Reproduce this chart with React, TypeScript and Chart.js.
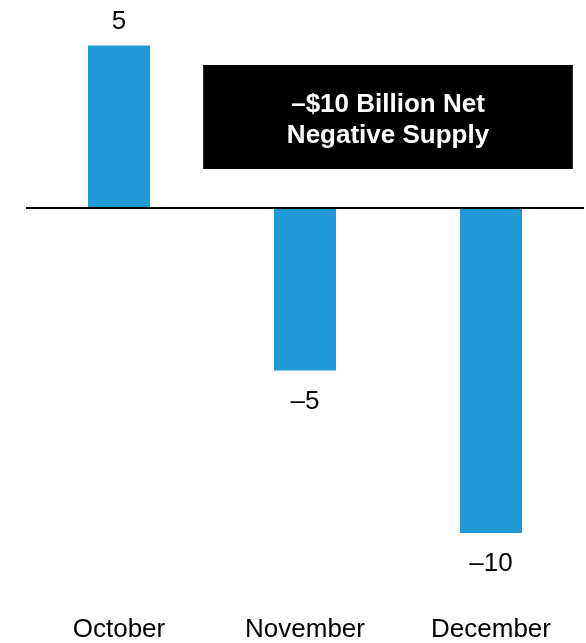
import React, { useEffect, useRef } from "react";
import { Chart, registerables } from "chart.js";

Chart.register(...registerables);

const categories = ["October", "November", "December"];
const values = [5, -5, -10];
const annotationLines = ["\u2013$10 Billion Net", "Negative Supply"];

const BAR_COLOR = "#209ad6";
const FONT = "'Liberation Sans', Arial, Helvetica, sans-serif";

const fmt = (v: number) => (v < 0 ? "\u2013" + Math.abs(v) : String(v));

export default function App() {
  const ref = useRef<HTMLCanvasElement | null>(null);

  useEffect(() => {
    document.body.style.margin = "0";
    const canvas = ref.current;
    if (!canvas) return;

    const overlay = {
      id: "overlay",
      afterDatasetsDraw(chart: any) {
        const ctx = chart.ctx;
        const y = chart.scales.y;
        const area = chart.chartArea;
        const zero = y.getPixelForValue(0);
        ctx.save();
        // zero line
        ctx.strokeStyle = "#000";
        ctx.lineWidth = 2;
        ctx.beginPath();
        ctx.moveTo(area.left, zero);
        ctx.lineTo(area.right, zero);
        ctx.stroke();

        // value labels
        ctx.fillStyle = "#000";
        ctx.font = `26px ${FONT}`;
        ctx.textAlign = "center";
        ctx.textBaseline = "alphabetic";
        const meta = chart.getDatasetMeta(0);
        meta.data.forEach((bar: any, i: number) => {
          const v = values[i];
          if (v >= 0) {
            ctx.fillText(fmt(v), bar.x, bar.y - 17);
          } else {
            ctx.fillText(fmt(v), bar.x, bar.y + 38);
          }
        });

        // annotation box
        const w = area.right - area.left;
        const x0 = area.left + w * 0.3175;
        const x1 = area.left + w * 0.98;
        const y0 = y.getPixelForValue(4.4);
        const y1 = y.getPixelForValue(1.2);
        ctx.fillStyle = "#000";
        ctx.fillRect(x0, y0, x1 - x0, y1 - y0);
        ctx.fillStyle = "#fff";
        ctx.font = `bold 26px ${FONT}`;
        const cx = (x0 + x1) / 2;
        ctx.fillText(annotationLines[0], cx, y0 + 47);
        ctx.fillText(annotationLines[1], cx, y0 + 78);
        ctx.restore();
      },
    };

    const chart = new Chart(canvas, {
      type: "bar",
      data: {
        labels: categories,
        datasets: [
          {
            data: values,
            backgroundColor: BAR_COLOR,
            borderWidth: 0,
            barPercentage: 0.667,
            categoryPercentage: 0.5,
          },
        ],
      },
      options: {
        responsive: false,
        animation: false,
        devicePixelRatio: 1,
        layout: { padding: { left: 26, right: 2, top: 0, bottom: 0 } },
        plugins: { legend: { display: false }, tooltip: { enabled: false } },
        scales: {
          x: {
            grid: { display: false, drawTicks: false },
            border: { display: false },
            ticks: {
              color: "#000",
              font: { family: FONT, size: 26 },
              padding: 14,
              maxRotation: 0,
            },
            afterFit: (scale: any) => {
              scale.height = 43;
            },
          },
          y: {
            display: false,
            min: -12.06,
            max: 6.4,
          },
        },
      },
      plugins: [overlay],
    });
    return () => chart.destroy();
  }, []);

  return (
    <div style={{ width: 586, height: 643 }}>
      <canvas ref={ref} width={586} height={643} />
    </div>
  );
}
